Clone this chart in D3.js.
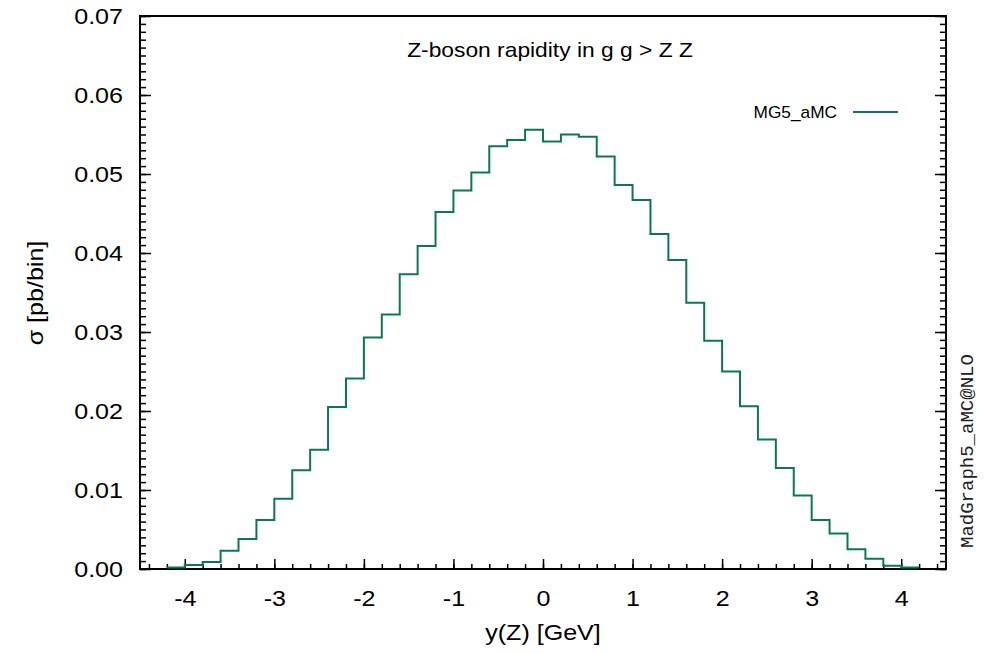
<!DOCTYPE html>
<html>
<head>
<meta charset="utf-8">
<script src="https://cdn.jsdelivr.net/npm/d3@7"></script>
<style>
  body { margin: 0; background: #fff; }
  svg { display: block; }
</style>
</head>
<body>
<svg width="986" height="654"></svg>
<script>
// bin edges of the histogram (width 0.2)
const binEdges = [-4.2, -4.0, -3.8, -3.6, -3.4, -3.2, -3.0, -2.8, -2.6, -2.4, -2.2,
  -2.0, -1.8, -1.6, -1.4, -1.2, -1.0, -0.8, -0.6, -0.4, -0.2, 0.0,
  0.2, 0.4, 0.6, 0.8, 1.0, 1.2, 1.4, 1.6, 1.8, 2.0,
  2.2, 2.4, 2.6, 2.8, 3.0, 3.2, 3.4, 3.6, 3.8, 4.0, 4.2];

// sigma per bin [pb/bin]
const xsec = [0.0002, 0.0005, 0.0009, 0.0023, 0.0038, 0.0062, 0.0089, 0.0125, 0.0151, 0.0205,
  0.0241, 0.0293, 0.0322, 0.0373, 0.0409, 0.0452, 0.0479, 0.0502, 0.0535, 0.0543,
  0.0556, 0.0541, 0.0550, 0.0547, 0.0522, 0.0486, 0.0467, 0.0424, 0.0391, 0.0337,
  0.0289, 0.0250, 0.0206, 0.0164, 0.0128, 0.0093, 0.0062, 0.0045, 0.0025, 0.0013,
  0.0004, 0.0002];

// ticks
const xMajor = [-4, -3, -2, -1, 0, 1, 2, 3, 4];
const yMajor = [0, 0.01, 0.02, 0.03, 0.04, 0.05, 0.06, 0.07];
const xMinor = d3.range(-44, 45, 2).map(v => v / 10);
const yMinor = d3.range(0, 71).map(v => v / 1000);

const seriesName = "MG5_aMC";
const lineColor = "#0b7757";

const svg = d3.select("svg");
const L = 140, R = 946, T = 16, B = 569;
const sx = 1.14; // horizontal stretch of the text

const x = d3.scaleLinear().domain([-4.5, 4.5]).range([L, R]);
const y = d3.scaleLinear().domain([0, 0.07]).range([B, T]);

const font = "'Liberation Sans', Arial, Helvetica, sans-serif";

// ticks (inward)
function tickGroup(axis, tx, ty) {
  const g = svg.append("g").attr("transform", `translate(${tx},${ty})`).call(axis);
  g.select(".domain").remove();
  g.selectAll("line").attr("stroke", "#000").attr("stroke-width", 1.5);
  return g;
}

tickGroup(d3.axisBottom(x).tickValues(xMinor).tickSize(-5).tickFormat(""), 0, B);
const gx = tickGroup(d3.axisBottom(x).tickValues(xMajor).tickSize(-10).tickPadding(21)
  .tickFormat(d => String(d)), 0, B);
gx.selectAll("text")
  .attr("font-family", font).attr("font-size", 22).attr("fill", "#000")
  .attr("transform", `scale(${sx},1)`);

tickGroup(d3.axisLeft(y).tickValues(yMinor).tickSize(-6).tickFormat(""), L, 0);
const gy = tickGroup(d3.axisLeft(y).tickValues(yMajor).tickSize(-11).tickPadding(17)
  .tickFormat(d => d.toFixed(2)), L, 0);
gy.selectAll("text")
  .attr("font-family", font).attr("font-size", 22).attr("fill", "#000")
  .attr("x", -17 / sx)
  .attr("transform", `scale(${sx},1)`);

tickGroup(d3.axisRight(y).tickValues(yMinor).tickSize(-6).tickFormat(""), R, 0);
tickGroup(d3.axisRight(y).tickValues(yMajor).tickSize(-11).tickFormat(""), R, 0);

// frame
svg.append("rect")
  .attr("x", L).attr("y", T).attr("width", R - L).attr("height", B - T)
  .attr("fill", "none").attr("stroke", "#000").attr("stroke-width", 2);

// histogram
const pts = xsec.map((v, i) => [binEdges[i], v]);
pts.push([binEdges[binEdges.length - 1], xsec[xsec.length - 1]]);

const line = d3.line()
  .x(d => x(d[0]))
  .y(d => y(d[1]))
  .curve(d3.curveStepAfter);

svg.append("path")
  .datum(pts)
  .attr("d", line)
  .attr("fill", "none")
  .attr("stroke", lineColor)
  .attr("stroke-width", 2);

// title
svg.append("text")
  .attr("transform", `translate(550,57) scale(${sx},1)`)
  .attr("text-anchor", "middle")
  .attr("font-family", font).attr("font-size", 20)
  .text("Z-boson rapidity in g g > Z Z");

// legend
svg.append("text")
  .attr("transform", `translate(837,117.5) scale(1.08,1)`)
  .attr("text-anchor", "end")
  .attr("font-family", font).attr("font-size", 16)
  .text(seriesName);
svg.append("line")
  .attr("x1", 853).attr("x2", 898).attr("y1", 112).attr("y2", 112)
  .attr("stroke", lineColor).attr("stroke-width", 2);

// axis labels
svg.append("text")
  .attr("transform", `translate(543,640) scale(${sx},1)`)
  .attr("text-anchor", "middle")
  .attr("font-family", font).attr("font-size", 22)
  .text("y(Z) [GeV]");

svg.append("text")
  .attr("transform", `translate(43,293) rotate(-90) scale(${sx},1)`)
  .attr("text-anchor", "middle")
  .attr("font-family", font).attr("font-size", 22)
  .text("σ [pb/bin]");

// side label
svg.append("text")
  .attr("transform", "translate(973,548) rotate(-90)")
  .attr("text-anchor", "start")
  .attr("font-family", "'Liberation Mono', 'DejaVu Sans Mono', monospace")
  .attr("font-size", 19)
  .attr("fill", "#222")
  .text("MadGraph5_aMC@NLO");
</script>
</body>
</html>
